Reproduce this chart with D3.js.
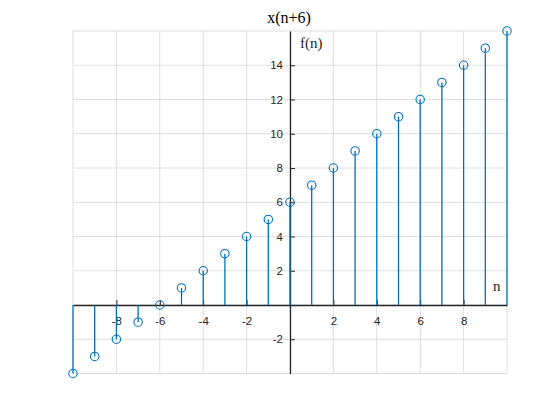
<!DOCTYPE html>
<html>
<head>
<meta charset="utf-8">
<script src="https://cdn.jsdelivr.net/npm/d3@7"></script>
<style>
  body { margin: 0; background: #fff; }
  svg { display: block; }
</style>
</head>
<body>
<svg id="chart" width="560" height="420"></svg>
<script>
// + -- data: f(n) = x(n+6) sampled on n = -10..10 --------------------------- +
const nValues = [-10, -9, -8, -7, -6, -5, -4, -3, -2, -1, 0, 1, 2, 3, 4, 5, 6, 7, 8, 9, 10]
const fValues = [-4, -3, -2, -1, 0, 1, 2, 3, 4, 5, 6, 7, 8, 9, 10, 11, 12, 13, 14, 15, 16]
const xTickLabels = [-8, -6, -4, -2, 2, 4, 6, 8]
const yTickLabels = [-2, 2, 4, 6, 8, 10, 12, 14]
const xGrid = [-10, -8, -6, -4, -2, 0, 2, 4, 6, 8, 10]
const yGrid = [-4, -2, 0, 2, 4, 6, 8, 10, 12, 14, 16]

const stemColor = '#0072BD'
const axisColor = '#262626'
const gridColor = '#dedede'

let svg = d3.select('#chart')

let x = d3.scaleLinear().domain([-10, 10]).range([73, 507])
let y = d3.scaleLinear().domain([-4, 16]).range([373.5, 31])

// + -- grid ----------------------------------------------------------------- +
let grid = svg.append('g')
grid.selectAll('line.vx')
  .data(xGrid)
  .enter().append('line')
  .attr('x1', d => x(d)).attr('x2', d => x(d))
  .attr('y1', y(-4)).attr('y2', y(16))
  .attr('stroke', gridColor)
  .attr('stroke-width', 1)
grid.selectAll('line.hy')
  .data(yGrid)
  .enter().append('line')
  .attr('x1', x(-10)).attr('x2', x(10))
  .attr('y1', d => y(d)).attr('y2', d => y(d))
  .attr('stroke', gridColor)
  .attr('stroke-width', 1)

// + -- axes through the origin ---------------------------------------------- +
// plain hyphen minus like matlab, not the unicode minus d3 uses
const fmt = d => String(d)
let xAxis = svg.append('g')
  .attr('transform', 'translate(0,' + y(0) + ')')
  .call(d3.axisBottom(x).tickValues(xTickLabels).tickFormat(fmt)
    .tickSizeInner(-5).tickSizeOuter(0).tickPadding(12))
let yAxis = svg.append('g')
  .attr('transform', 'translate(' + x(0) + ',0)')
  .call(d3.axisLeft(y).tickValues(yTickLabels).tickFormat(fmt)
    .tickSizeInner(-5).tickSizeOuter(0).tickPadding(7))

;[xAxis, yAxis].forEach(a => {
  a.select('.domain').attr('stroke', axisColor).attr('stroke-width', 1.3)
  a.selectAll('.tick line').attr('stroke', axisColor)
  a.selectAll('.tick text')
    .attr('fill', axisColor)
    .style('font-size', '11.5px')
    .style('font-family', 'Liberation Sans, Arial, sans-serif')
})

// + -- stems and open markers ---------------------------------------------- +
let pts = nValues.map((n, i) => ({n: n, v: fValues[i]}))

svg.append('g').selectAll('line')
  .data(pts)
  .enter().append('line')
  .attr('x1', d => x(d.n)).attr('x2', d => x(d.n))
  .attr('y1', y(0)).attr('y2', d => y(d.v))
  .attr('stroke', stemColor)
  .attr('stroke-width', 1.3)

svg.append('g').selectAll('circle')
  .data(pts)
  .enter().append('circle')
  .attr('cx', d => x(d.n))
  .attr('cy', d => y(d.v))
  .attr('r', 4.2)
  .attr('fill', 'none')
  .attr('stroke', stemColor)
  .attr('stroke-width', 1.1)

// + -- labels (latex style) ------------------------------------------------- +
const serif = 'Liberation Serif, DejaVu Serif, serif'
svg.append('text')
  .text('x(n+6)')
  .attr('x', 289)
  .attr('y', 23)
  .attr('text-anchor', 'middle')
  .attr('font-family', serif)
  .attr('font-size', 16)
  .attr('fill', '#000')

svg.append('text')
  .text('f(n)')
  .attr('x', 300)
  .attr('y', 48)
  .attr('font-family', serif)
  .attr('font-size', 15)
  .attr('fill', axisColor)

svg.append('text')
  .text('n')
  .attr('x', 493)
  .attr('y', 291)
  .attr('font-family', serif)
  .attr('font-size', 15)
  .attr('fill', axisColor)
</script>
</body>
</html>
